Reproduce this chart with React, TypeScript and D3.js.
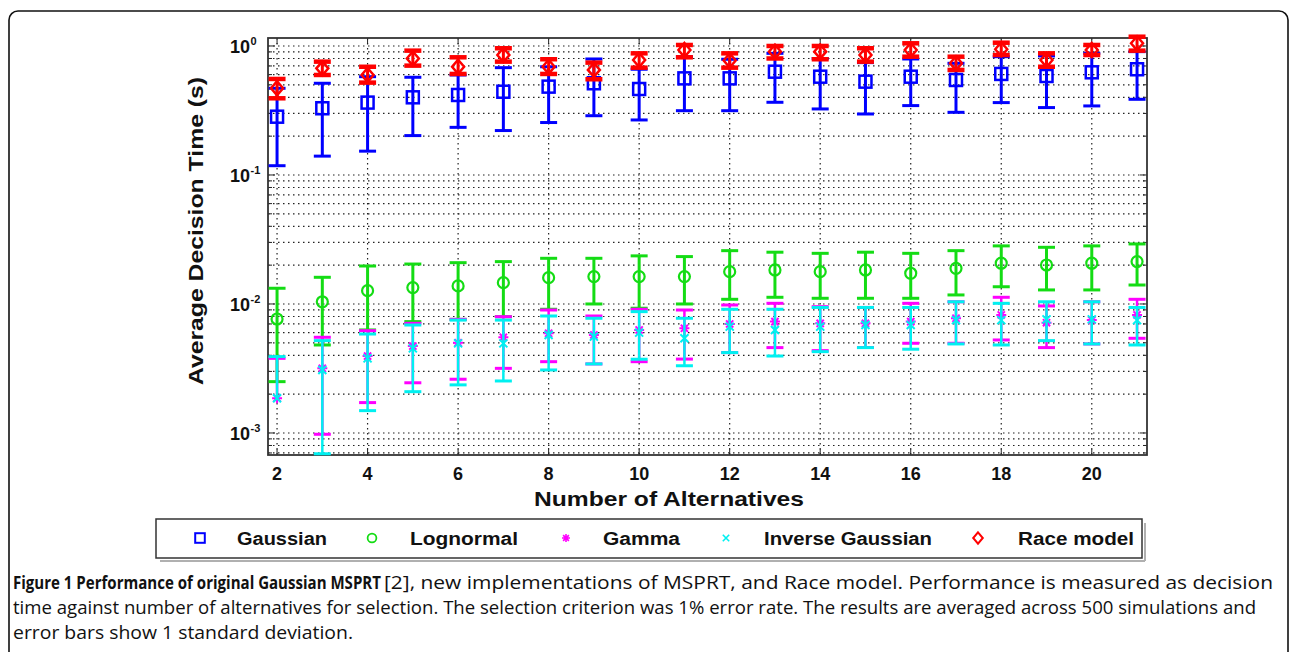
import React, { useLayoutEffect, useRef, useState } from 'react';
import * as d3 from 'd3';

// ---------- data ----------
const alternatives = [2, 3, 4, 5, 6, 7, 8, 9, 10, 11, 12, 13, 14, 15, 16, 17, 18, 19, 20, 21];

const gaussianMean = [0.283, 0.329, 0.364, 0.40, 0.417, 0.442, 0.484, 0.514, 0.464, 0.561, 0.561, 0.632, 0.578, 0.529, 0.578, 0.545, 0.607, 0.585, 0.625, 0.66];
const gaussianHigh = [0.47, 0.514, 0.578, 0.572, 0.596, 0.679, 0.69, 0.793, 0.66, 0.826, 0.789, 0.877, 0.80, 0.743, 0.793, 0.734, 0.826, 0.837, 0.877, 0.904];
const gaussianLow = [0.118, 0.14, 0.153, 0.202, 0.234, 0.221, 0.255, 0.288, 0.267, 0.315, 0.315, 0.366, 0.325, 0.297, 0.345, 0.306, 0.364, 0.333, 0.343, 0.386];

const lognormalMean = [0.00765, 0.0104, 0.01268, 0.0134, 0.0138, 0.01463, 0.016, 0.0163, 0.0163, 0.0163, 0.0178, 0.01835, 0.0178, 0.01835, 0.0173, 0.0189, 0.0207, 0.02006, 0.0207, 0.0213];
const lognormalHigh = [0.01324, 0.0161, 0.0197, 0.0204, 0.0209, 0.0213, 0.0226, 0.0226, 0.0236, 0.0233, 0.0259, 0.0252, 0.0247, 0.0252, 0.0247, 0.0259, 0.0282, 0.0275, 0.0282, 0.0292];
const lognormalLow = [0.0025, 0.00481, 0.00629, 0.0073, 0.0076, 0.00797, 0.0091, 0.01, 0.00927, 0.01, 0.01087, 0.01127, 0.01107, 0.01107, 0.01107, 0.01175, 0.0136, 0.01285, 0.01285, 0.01403];

const gammaMean = [0.00186, 0.00317, 0.00395, 0.00472, 0.00501, 0.00552, 0.00593, 0.00575, 0.00629, 0.00648, 0.007, 0.0073, 0.00708, 0.00708, 0.0073, 0.00775, 0.00822, 0.00716, 0.0075, 0.00822];
const gammaHigh = [0.00379, 0.00552, 0.00621, 0.00708, 0.0076, 0.00797, 0.00898, 0.00807, 0.0091, 0.00898, 0.00982, 0.01012, 0.00953, 0.0094, 0.01012, 0.0104, 0.01127, 0.00965, 0.0104, 0.01087];
const gammaLow = [0, 0.000977, 0.00172, 0.00245, 0.00261, 0.00317, 0.00357, 0.00343, 0.00357, 0.00374, 0.0042, 0.00459, 0.00435, 0.0046, 0.00496, 0.00496, 0.00526, 0.00459, 0.0049, 0.00542];

const invGaussianMean = [0.00186, 0.00308, 0.00379, 0.00453, 0.00495, 0.00495, 0.00575, 0.00558, 0.006, 0.00542, 0.00667, 0.00629, 0.00667, 0.00687, 0.00687, 0.0075, 0.0075, 0.0076, 0.0076, 0.0075];
const invGaussianHigh = [0.00391, 0.0052, 0.00585, 0.00687, 0.0075, 0.0075, 0.00807, 0.00775, 0.00872, 0.00775, 0.0091, 0.0091, 0.0094, 0.0094, 0.0094, 0.0104, 0.01012, 0.0104, 0.0104, 0.0094];
const invGaussianLow = [0, 0.00069, 0.00149, 0.00209, 0.00236, 0.00253, 0.00308, 0.00343, 0.00373, 0.00332, 0.0042, 0.00395, 0.00427, 0.00459, 0.00446, 0.0049, 0.00481, 0.0052, 0.0049, 0.00481];

const raceMean = [0.47, 0.671, 0.596, 0.80, 0.69, 0.851, 0.69, 0.652, 0.779, 0.931, 0.772, 0.904, 0.904, 0.851, 0.931, 0.734, 0.943, 0.779, 0.931, 1.049];
const raceHigh = [0.555, 0.756, 0.69, 0.92, 0.817, 0.96, 0.789, 0.743, 0.877, 1.018, 0.877, 1.0, 1.0, 0.96, 1.049, 0.826, 1.06, 0.877, 1.018, 1.18];
const raceLow = [0.393, 0.596, 0.52, 0.704, 0.607, 0.756, 0.607, 0.552, 0.679, 0.817, 0.679, 0.80, 0.789, 0.756, 0.826, 0.652, 0.851, 0.69, 0.851, 0.92];

const xTicks = [2, 4, 6, 8, 10, 12, 14, 16, 18, 20];
const yTickExponents = [0, -1, -2, -3];
const seriesNames = ['Gaussian', 'Lognormal', 'Gamma', 'Inverse Gaussian', 'Race model'];

const xLabel = 'Number of Alternatives';
const yLabel = 'Average Decision Time (s)';
const captionBold = 'Figure 1 Performance of original Gaussian MSPRT';
const captionLine1 = '[2], new implementations of MSPRT, and Race model. Performance is measured as decision';
const captionLine2 = 'time against number of alternatives for selection. The selection criterion was 1% error rate. The results are averaged across 500 simulations and';
const captionLine3 = 'error bars show 1 standard deviation.';

// ---------- styling / layout ----------
type MarkerKind = 'square' | 'circle' | 'star' | 'x' | 'diamond';
const seriesStyle: { color: string; marker: MarkerKind; lw: number; capLw: number }[] = [
  { color: '#0000ff', marker: 'square', lw: 3, capLw: 3 },
  { color: '#14dc14', marker: 'circle', lw: 3, capLw: 3 },
  { color: '#ff00ff', marker: 'star', lw: 2.5, capLw: 3 },
  { color: '#00f0f0', marker: 'x', lw: 2.5, capLw: 3 },
  { color: '#ff0000', marker: 'diamond', lw: 3, capLw: 4.5 },
];

const series = [
  { mean: gaussianMean, low: gaussianLow, high: gaussianHigh },
  { mean: lognormalMean, low: lognormalLow, high: lognormalHigh },
  { mean: gammaMean, low: gammaLow, high: gammaHigh },
  { mean: invGaussianMean, low: invGaussianLow, high: invGaussianHigh },
  { mean: raceMean, low: raceLow, high: raceHigh },
];

const PL = 268, PR = 1147, PT = 38, PB = 455;
const FONT = '"Liberation Sans", Arial, Helvetica, sans-serif';
const CAPTION_FONT = '"Open Sans", "Noto Sans", sans-serif';

function Marker({ kind, cx, cy, color, scale = 1 }: { kind: MarkerKind; cx: number; cy: number; color: string; scale?: number }) {
  const common = { fill: 'none', stroke: color } as const;
  if (kind === 'square') {
    const s = 6 * scale;
    return <rect x={cx - s} y={cy - s} width={2 * s} height={2 * s} {...common} strokeWidth={2.5 * scale} />;
  }
  if (kind === 'circle') {
    return <circle cx={cx} cy={cy} r={5.5 * scale} {...common} strokeWidth={2.2 * scale} />;
  }
  if (kind === 'diamond') {
    const w = 6 * scale, h = 7 * scale;
    return <path d={`M${cx},${cy - h}L${cx + w},${cy}L${cx},${cy + h}L${cx - w},${cy}Z`} {...common} strokeWidth={2.5 * scale} />;
  }
  if (kind === 'x') {
    const s = 4 * scale;
    return <path d={`M${cx - s},${cy - s}L${cx + s},${cy + s}M${cx - s},${cy + s}L${cx + s},${cy - s}`} {...common} strokeWidth={2 * scale} />;
  }
  const s = 5 * scale, d = 3.6 * scale;
  return (
    <path
      d={`M${cx - s},${cy}L${cx + s},${cy}M${cx},${cy - s}L${cx},${cy + s}M${cx - d},${cy - d}L${cx + d},${cy + d}M${cx - d},${cy + d}L${cx + d},${cy - d}`}
      {...common}
      strokeWidth={2 * scale}
    />
  );
}

export default function App() {
  const x = d3.scaleLinear().domain([1.8, 21.22]).range([PL, PR]);
  const y = d3.scaleLog().domain([6.75e-4, 1.153]).range([PB, PT]);
  const [y0, y1] = y.domain();

  const boldRef = useRef<SVGTextElement>(null);
  const [boldScale, setBoldScale] = useState(0.78);
  useLayoutEffect(() => {
    const el = boldRef.current;
    if (el) {
      const w = el.getComputedTextLength();
      if (w > 0) setBoldScale(368 / w);
    }
  }, []);

  const minorVals: number[] = [];
  for (let e = -4; e <= 0; e++) {
    for (let k = 1; k <= 9; k++) {
      const v = k * Math.pow(10, e);
      if (v >= y0 && v <= y1) minorVals.push(v);
    }
  }
  const capHalf = 8.5;
  const dot = { stroke: '#222', strokeWidth: 1.2, strokeDasharray: '1.5,3.5', fill: 'none' } as const;

  const legendLayout = [
    { mx: 200, tx: 237, tw: 90 },
    { mx: 372, tx: 410, tw: 108 },
    { mx: 566, tx: 603, tw: 77 },
    { mx: 726, tx: 764, tw: 168 },
    { mx: 978, tx: 1018, tw: 116 },
  ];

  return (
    <svg width={1290} height={652} style={{ position: 'absolute', left: 0, top: 0, display: 'block', background: '#fff' }}>
      {/* outer figure frame */}
      <rect x={9} y={11} width={1279} height={720} rx={9} fill="#fff" stroke="#111" strokeWidth={1.6} />

      {/* grid */}
      <g>
        {minorVals.map((v, i) => (
          <line key={'hg' + i} x1={PL} x2={PR} y1={y(v)} y2={y(v)} {...dot} />
        ))}
        {xTicks.map((t) => (
          <line key={'vg' + t} x1={x(t)} x2={x(t)} y1={PT} y2={PB} {...dot} />
        ))}
      </g>

      {/* ticks */}
      <g stroke="#222" strokeWidth={1}>
        {xTicks.map((t) => (
          <g key={'xt' + t}>
            <line x1={x(t)} x2={x(t)} y1={PB} y2={PB - 6} />
            <line x1={x(t)} x2={x(t)} y1={PT} y2={PT + 6} />
          </g>
        ))}
        {minorVals.map((v, i) => {
          const major = Math.abs(Math.log10(v) - Math.round(Math.log10(v))) < 1e-9;
          const len = major ? 7 : 4;
          return (
            <g key={'yt' + i}>
              <line x1={PL} x2={PL + len} y1={y(v)} y2={y(v)} />
              <line x1={PR} x2={PR - len} y1={y(v)} y2={y(v)} />
            </g>
          );
        })}
      </g>

      {/* axes box */}
      <rect x={PL} y={PT} width={PR - PL} height={PB - PT} fill="none" stroke="#333" strokeWidth={1.8} />

      {/* error bars and markers */}
      {series.map((s, si) => {
        const st = seriesStyle[si];
        return (
          <g key={'s' + si}>
            {alternatives.map((a, i) => {
              const cx = x(a);
              const cy = y(s.mean[i]);
              const hasLow = s.low[i] > 0;
              const yl = hasLow ? y(s.low[i]) : cy;
              const yh = y(s.high[i]);
              return (
                <g key={i}>
                  <line x1={cx} x2={cx} y1={yl} y2={yh} stroke={st.color} strokeWidth={st.lw} />
                  <line x1={cx - capHalf} x2={cx + capHalf} y1={yh} y2={yh} stroke={st.color} strokeWidth={st.capLw} />
                  {hasLow && (
                    <line x1={cx - capHalf} x2={cx + capHalf} y1={yl} y2={yl} stroke={st.color} strokeWidth={st.capLw} />
                  )}
                  <Marker kind={st.marker} cx={cx} cy={cy} color={st.color} />
                </g>
              );
            })}
          </g>
        );
      })}

      {/* tick labels */}
      <g fontFamily={FONT} fontWeight="bold" fill="#111">
        {yTickExponents.map((e) => {
          const ty = y(Math.pow(10, e));
          return (
            <g key={'yl' + e}>
              <text x={250} y={ty + 7} fontSize={18} textAnchor="end">10</text>
              <text x={250.5} y={ty - 1} fontSize={11}>{e === 0 ? '0' : '-' + Math.abs(e)}</text>
            </g>
          );
        })}
        {xTicks.map((t) => (
          <text key={'xl' + t} x={x(t)} y={480} fontSize={18} textAnchor="middle">{t}</text>
        ))}
      </g>

      {/* axis labels */}
      <text x={669} y={506} fontFamily={FONT} fontWeight="bold" fontSize={21} textAnchor="middle" fill="#111" textLength={270} lengthAdjust="spacingAndGlyphs">
        {xLabel}
      </text>
      <text
        transform="translate(203,231) rotate(-90)"
        fontFamily={FONT}
        fontWeight="bold"
        fontSize={21}
        textAnchor="middle"
        fill="#111"
        textLength={308}
        lengthAdjust="spacingAndGlyphs"
      >
        {yLabel}
      </text>

      {/* legend */}
      <g>
        <line x1={160} x2={1145} y1={561} y2={561} stroke="#b0b0b0" strokeWidth={2} />
        <line x1={1145} x2={1145} y1={523} y2={561} stroke="#b0b0b0" strokeWidth={2} />
        <rect x={156} y={519} width={986} height={39} fill="#fff" stroke="#333" strokeWidth={1.5} />
        {seriesNames.map((name, i) => {
          const L = legendLayout[i];
          const st = seriesStyle[i];
          return (
            <g key={'lg' + i}>
              <Marker kind={st.marker} cx={L.mx} cy={538} color={st.color} scale={0.8} />
              <text x={L.tx} y={545} fontFamily={FONT} fontWeight="bold" fontSize={18} fill="#111" textLength={L.tw} lengthAdjust="spacingAndGlyphs">
                {name}
              </text>
            </g>
          );
        })}
      </g>

      {/* caption */}
      <g fontFamily={CAPTION_FONT} fontSize={18} fill="#111">
        <text ref={boldRef} transform={`translate(13,589) scale(${boldScale},1)`} fontWeight="bold">
          {captionBold}
        </text>
        <text x={384} y={589} textLength={889} lengthAdjust="spacingAndGlyphs">{captionLine1}</text>
        <text x={13} y={614} textLength={1243} lengthAdjust="spacingAndGlyphs">{captionLine2}</text>
        <text x={13} y={639} textLength={340} lengthAdjust="spacingAndGlyphs">{captionLine3}</text>
      </g>
    </svg>
  );
}
